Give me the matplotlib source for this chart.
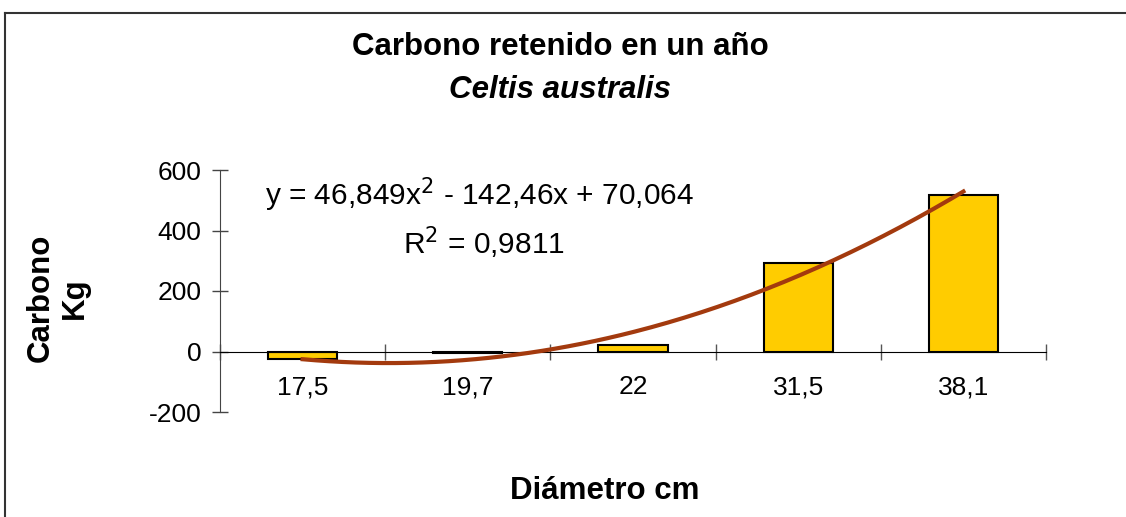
import numpy as np
import matplotlib.pyplot as plt
from matplotlib.lines import Line2D

plt.rcParams['font.family'] = ['Liberation Sans', 'DejaVu Sans']
plt.rcParams['axes.unicode_minus'] = False

# data
diametros = ['17,5', '19,7', '22', '31,5', '38,1']
carbono = [-26, -6, 20, 291, 516]
# trend line shown on the chart (x = category index 1..5)
coef = [46.849, -142.46, 70.064]

fig = plt.figure(figsize=(11.26, 5.17), dpi=100)
ax = fig.add_axes([220 / 1126, 1 - 412 / 517, (1046 - 220) / 1126, (412 - 170) / 517])

x = np.arange(1, len(carbono) + 1)
ax.bar(x, carbono, width=0.42, color='#FFCC00', edgecolor='black', linewidth=1.5, zorder=2)

xs = np.linspace(1, len(carbono), 200)
ax.plot(xs, np.polyval(coef, xs), color='#A33A0E', linewidth=3, zorder=3)

ax.set_xlim(0.5, len(carbono) + 0.5)
ax.set_ylim(-200, 600)

# spines: only y axis and the zero line
for s in ['top', 'right']:
    ax.spines[s].set_visible(False)
ax.spines['bottom'].set_position(('data', 0))
ax.spines['left'].set_color('#444444')

ax.set_yticks([-200, 0, 200, 400, 600])
ax.tick_params(axis='y', direction='inout', length=11, width=1, color='#444444',
               labelsize=19, pad=8)

# category boundaries as ticks, labels in the middle
ax.set_xticks(np.arange(0.5, len(carbono) + 1, 1))
ax.set_xticklabels([])
ax.tick_params(axis='x', which='major', direction='inout', length=12, width=1, color='#555555')
ax.set_xticks(x, minor=True)
ax.set_xticklabels(diametros, minor=True)
ax.tick_params(axis='x', which='minor', length=0, labelsize=19, pad=17)

ax.text(0.054, 0.897, r'y = 46,849x$^2$ - 142,46x + 70,064', transform=ax.transAxes,
        fontsize=21.5, va='center', ha='left')
ax.text(0.2215, 0.698, r'R$^2$ = 0,9811', transform=ax.transAxes,
        fontsize=21.5, va='center', ha='left')

fig.text(560 / 1126, 1 - 47 / 517, 'Carbono retenido en un año', ha='center', va='center',
         fontsize=22.5, fontweight='bold')
fig.text(560 / 1126, 1 - 90 / 517, 'Celtis australis', ha='center', va='center',
         fontsize=22.5, fontweight='bold', style='italic')
fig.text(605 / 1126, 1 - 491 / 517, 'Diámetro cm', ha='center', va='center',
         fontsize=22.5, fontweight='bold')
fig.text(58 / 1126, 1 - 298 / 517, 'Carbono\nKg', ha='center', va='center',
         fontsize=22.5, fontweight='bold', rotation=90, linespacing=1.2)

# chart area frame (cut off at right and bottom)
fig.add_artist(Line2D([5 / 1126, 1.01], [1 - 13 / 517] * 2, color='#333333', linewidth=1.5))
fig.add_artist(Line2D([5 / 1126] * 2, [-0.01, 1 - 13 / 517], color='#333333', linewidth=1.5))

fig.savefig('out.png', dpi=100)
